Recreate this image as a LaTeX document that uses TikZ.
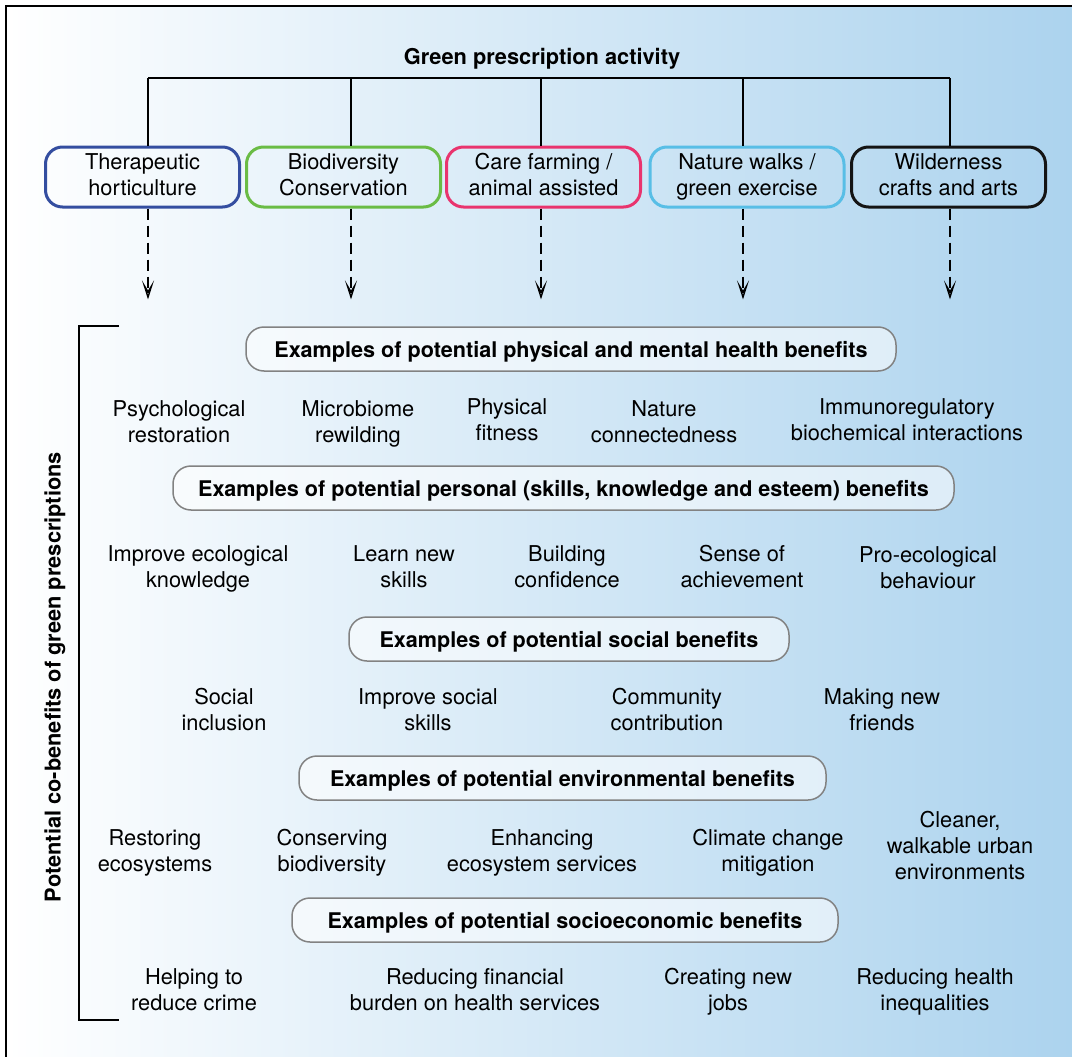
\documentclass[tikz,border=0pt]{standalone}
\usepackage{fontspec}
\setmainfont{TeX Gyre Heros}
\usetikzlibrary{arrows.meta,calc}
\definecolor{bgblue}{RGB}{172,211,238}
\definecolor{cblue}{RGB}{52,78,160}
\definecolor{cgreen}{RGB}{106,188,69}
\definecolor{cpink}{RGB}{233,52,110}
\definecolor{ccyan}{RGB}{88,190,230}
\definecolor{cblack}{RGB}{20,20,20}
\definecolor{hdrline}{RGB}{130,130,130}
\newcommand{\twolines}[2]{\strut #1\\\strut #2}

\begin{document}
\begin{tikzpicture}[x=1pt,y=-1pt,
  txt/.style={font=\fontsize{21.8}{26}\selectfont},
  activity/.style={draw=#1, line width=3pt, rounded corners=17pt,
    minimum width=194pt, minimum height=60pt, align=center, inner sep=0pt, txt},
  header/.style={draw=hdrline, line width=1.5pt, rounded corners=18pt,
    fill=white, fill opacity=0.55, text opacity=1,
    minimum width=#1, minimum height=44pt, inner sep=0pt,
    text height=16pt, text depth=0pt,
    font=\fontsize{21.6}{26}\selectfont\bfseries},
  item/.style={align=center, inner sep=0pt, anchor=base, txt},
  tree/.style={line width=1.5pt},
  flow/.style={line width=2pt, dash pattern=on 11pt off 6pt,
    -{Stealth[open, length=19pt, width=12pt, inset=10pt, line width=1.4pt]}},
  bracket/.style={line width=1.8pt}]

% background and frame
\useasboundingbox (0,0) rectangle (1072,1057);
\shade[left color=white, right color=bgblue] (6,6) rectangle (1072,1057);
\draw[line width=1.5pt] (6,1057) -- (6,6) -- (1072,6);

% activity tree
\node[font=\fontsize{21.8}{26}\selectfont\bfseries, anchor=base] (title) at (542,64.5) {Green prescription activity};
\coordinate (t1) at (148,78);
\coordinate (t2) at (351,78);
\coordinate (t3) at (541,78);
\coordinate (t4) at (743,78);
\coordinate (t5) at (950,78);

\node[activity=cblue]  (a1) at (142.5,177) {\twolines{Therapeutic}{horticulture}};
\node[activity=cgreen] (a2) at (343.5,177) {\twolines{Biodiversity}{Conservation}};
\node[activity=cpink]  (a3) at (543.5,177) {\twolines{Care farming /}{animal assisted}};
\node[activity=ccyan]  (a4) at (747,177) {\twolines{Nature walks /}{green exercise}};
\node[activity=cblack] (a5) at (948.5,177) {\twolines{Wilderness}{crafts and arts}};

\draw[tree] (t1) -- (t5);
\foreach \i in {1,...,5} {
  \draw[tree] (t\i) -- (t\i |- a\i.north);
  \coordinate (e\i) at ($(t\i |- a\i.south)+(0,91)$);
  \draw[flow] (t\i |- a\i.south) -- (e\i);
}

% bracket and side label
\coordinate (bt) at (119,326);
\coordinate (bb) at (119,1020);
\draw[bracket] (bt) -- ++(-40,0) |- (bb);
\node[rotate=90, font=\fontsize{21.8}{26}\selectfont\bfseries] (side) at (55,677)
  {Potential co-benefits of green prescriptions};

% physical and mental health (item anchors sit on the last baseline)
\node[header=650pt] (h1) at (571,349) {Examples of potential physical and mental health benefits};
\node[item] (p1) at (179,442.5) {Psychological\\restoration};
\node[item] (p2) at (358,442.5) {Microbiome\\rewilding};
\node[item] (p3) at (507,440.5) {Physical\\fitness};
\node[item] (p4) at (664,442.5) {Nature\\connectedness};
\node[item] (p5) at (907,440.5) {Immunoregulatory\\biochemical interactions};

% personal
\node[header=781pt] (h2) at (563.5,488) {Examples of potential personal (skills, knowledge and esteem) benefits};
\node[item] (q1) at (198,587.5) {Improve ecological\\knowledge};
\node[item] (q2) at (404,587.5) {Learn new\\skills};
\node[item] (q3) at (567,587.5) {Building\\confidence};
\node[item] (q4) at (742,587.5) {Sense of\\achievement};
\node[item] (q5) at (928,588.5) {Pro-ecological\\behaviour};

% social
\node[header=440pt] (h3) at (569,639) {Examples of potential social benefits};
\node[item] (s1) at (224,730) {Social\\inclusion};
\node[item] (s2) at (428,730) {Improve social\\skills};
\node[item] (s3) at (667,730) {Community\\contribution};
\node[item] (s4) at (882,730) {Making new\\friends};

% environmental
\node[header=527pt] (h4) at (562.5,778) {Examples of potential environmental benefits};
\node[item] (v1) at (155,871) {Restoring\\ecosystems};
\node[item] (v2) at (332,871) {Conserving\\biodiversity};
\node[item] (v3) at (542,871) {Enhancing\\ecosystem services};
\node[item] (v4) at (768,871) {Climate change\\mitigation};
\node[item] (v5) at (960,879.5) {Cleaner,\\walkable urban\\environments};

% socioeconomic
\node[header=546pt] (h5) at (565,920) {Examples of potential socioeconomic benefits};
\node[item] (w1) at (194,1010) {Helping to\\reduce crime};
\node[item] (w2) at (475,1010) {Reducing financial\\burden on health services};
\node[item] (w3) at (728,1010) {Creating new\\jobs};
\node[item] (w4) at (935,1010) {Reducing health\\inequalities};
\end{tikzpicture}
\end{document}
